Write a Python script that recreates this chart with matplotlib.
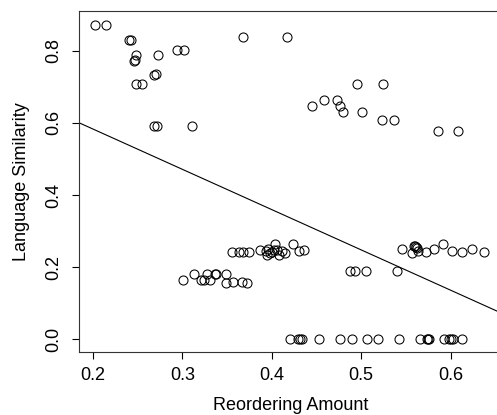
import matplotlib
matplotlib.use("Agg")
import matplotlib.pyplot as plt

plt.rcParams['font.family'] = ['Liberation Sans', 'DejaVu Sans']

# Data
reordering = [
    # upper-left group
    0.202, 0.215, 0.240, 0.243, 0.248, 0.246, 0.247, 0.273, 0.294, 0.302,
    0.268, 0.270, 0.248, 0.255, 0.268, 0.272, 0.311, 0.368, 0.417,
    # upper-right group
    0.495, 0.524, 0.445, 0.458, 0.473, 0.476, 0.480, 0.501, 0.523, 0.537,
    0.586, 0.608,
    # lower-left group (~0.17)
    0.301, 0.313, 0.321, 0.324, 0.328, 0.331, 0.336, 0.338, 0.349, 0.349,
    0.357, 0.367, 0.372,
    # middle group (~0.24)
    0.356, 0.363, 0.368, 0.375, 0.387, 0.393, 0.395, 0.396, 0.400, 0.404,
    0.406, 0.408, 0.411, 0.415, 0.398, 0.402, 0.424, 0.430, 0.436,
    # ~0.19 group
    0.488, 0.493, 0.505, 0.540,
    # right group (~0.25)
    0.546, 0.557, 0.559, 0.560, 0.561, 0.562, 0.564, 0.573, 0.581, 0.592,
    0.602, 0.613, 0.624, 0.637,
    # zero group
    0.4206, 0.4299, 0.4318, 0.4337, 0.4523, 0.4766, 0.4897, 0.5065, 0.5188,
    0.5427, 0.5662, 0.5737, 0.5745, 0.5755, 0.5923, 0.5979, 0.6005, 0.6028,
    0.6129,
]
similarity = [
    0.872, 0.872, 0.830, 0.830, 0.789, 0.772, 0.775, 0.788, 0.803, 0.803,
    0.733, 0.735, 0.709, 0.709, 0.591, 0.591, 0.591, 0.839, 0.839,
    0.708, 0.708, 0.647, 0.663, 0.663, 0.647, 0.631, 0.631, 0.608, 0.608,
    0.578, 0.578,
    0.164, 0.181, 0.164, 0.164, 0.181, 0.164, 0.181, 0.181, 0.181, 0.156,
    0.158, 0.158, 0.155,
    0.242, 0.242, 0.242, 0.242, 0.249, 0.244, 0.235, 0.251, 0.242, 0.263,
    0.249, 0.235, 0.244, 0.240, 0.238, 0.247, 0.263, 0.244, 0.247,
    0.189, 0.189, 0.189, 0.189,
    0.250, 0.240, 0.258, 0.260, 0.256, 0.254, 0.244, 0.242, 0.251, 0.263,
    0.244, 0.242, 0.251, 0.242,
    0.0, 0.0, 0.0, 0.0, 0.0, 0.0, 0.0, 0.0, 0.0,
    0.0, 0.0, 0.0, 0.0, 0.0, 0.0, 0.0, 0.0, 0.0,
    0.0,
]
fit_intercept = 0.806
fit_slope = -1.116

x_ticks = [0.2, 0.3, 0.4, 0.5, 0.6]
x_ticklabels = ["0.2", "0.3", "0.4", "0.5", "0.6"]
y_ticks = [0.0, 0.2, 0.4, 0.6, 0.8]
y_ticklabels = ["0.0", "0.2", "0.4", "0.6", "0.8"]

W, H = 497, 415
fig = plt.figure(figsize=(W / 100, H / 100), dpi=100)
ax = fig.add_axes([79 / W, 1 - 352 / H, (502 - 79) / W, (352 - 11) / H])

ax.plot(reordering, similarity, linestyle='none', marker='o', markersize=6.5,
        markerfacecolor='none', markeredgecolor='black', markeredgewidth=0.75)
ax.axline((0, fit_intercept), slope=fit_slope, color='black', linewidth=0.8)

ax.set_xlim(0.1843, 0.6576)
ax.set_ylim(-0.035, 0.91)

ax.set_xticks(x_ticks)
ax.set_xticklabels(x_ticklabels)
ax.set_yticks(y_ticks)
ax.set_yticklabels(y_ticklabels, rotation=90, va='center')
ax.tick_params(axis='both', direction='out', length=5, width=0.8,
               labelsize=13, colors='black')
ax.tick_params(axis='x', pad=6)
ax.tick_params(axis='y', pad=7)
for s in ax.spines.values():
    s.set_linewidth(0.8)
    s.set_color('#333333')

ax.set_xlabel("Reordering Amount", fontsize=13, labelpad=9)
ax.set_ylabel("Language Similarity", fontsize=13, labelpad=11)

fig.savefig("out.png", dpi=100)
